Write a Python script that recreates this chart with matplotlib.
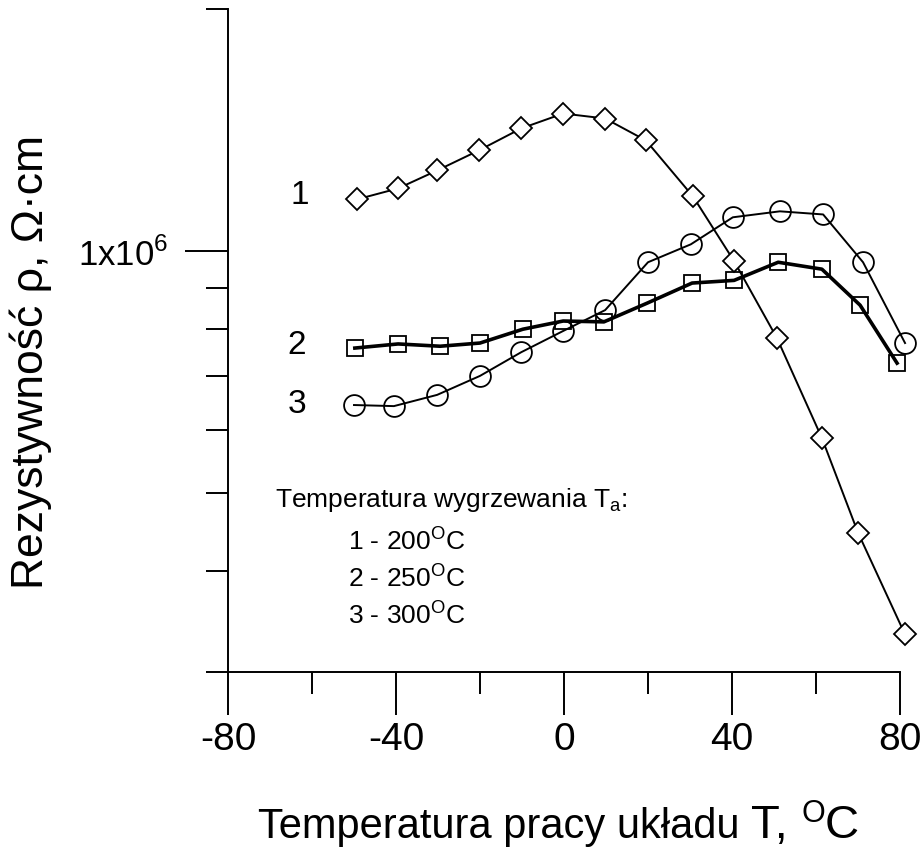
import numpy as np
import matplotlib.pyplot as plt
from matplotlib.ticker import FixedLocator, NullFormatter, FixedFormatter

plt.rcParams['font.family'] = ['Liberation Sans', 'DejaVu Sans']
plt.rcParams['mathtext.fontset'] = 'custom'
plt.rcParams['mathtext.rm'] = 'Liberation Sans'
plt.rcParams['axes.unicode_minus'] = False

# series 1 - Ta = 200 C (diamonds)
t1 = [-49.3, -39.5, -30.2, -20.2, -10.2, -0.2, 9.8, 19.5, 30.7, 40.5, 50.7, 61.4, 70.0, 81.2]
rho1 = [1.160e6, 1.197e6, 1.260e6, 1.335e6, 1.421e6, 1.483e6, 1.462e6, 1.373e6,
        1.170e6, 0.972e6, 0.780e6, 0.586e6, 0.447e6, 0.334e6]

# series 2 - Ta = 250 C (squares)
t2 = [-49.8, -39.5, -29.5, -20.0, -9.8, -0.2, 9.5, 19.8, 30.5, 40.5, 51.0, 61.4, 70.5, 79.3]
rho2 = [0.758e6, 0.767e6, 0.762e6, 0.769e6, 0.800e6, 0.819e6, 0.817e6, 0.862e6,
        0.913e6, 0.920e6, 0.969e6, 0.950e6, 0.857e6, 0.726e6]

# series 3 - Ta = 300 C (circles)
t3 = [-50.0, -40.5, -30.2, -20.0, -10.2, -0.2, 9.8, 20.0, 30.2, 40.2, 51.4, 61.7, 71.2, 81.2]
rho3 = [0.644e6, 0.642e6, 0.663e6, 0.700e6, 0.749e6, 0.796e6, 0.845e6, 0.969e6,
        1.020e6, 1.102e6, 1.121e6, 1.111e6, 0.969e6, 0.769e6]

xticks = [-80, -40, 0, 40, 80]
xminor = [-60, -20, 20, 60]
yminor = [3e5, 4e5, 5e5, 6e5, 7e5, 8e5, 9e5, 2e6]

W, H = 921, 852


def fx(px):
    return px / W


def fy(py):
    return 1 - py / H


fig = plt.figure(figsize=(W / 100, H / 100), dpi=100)
ax = fig.add_axes([fx(228), fy(672), (900 - 228) / W, (672 - 9) / H])

ax.plot(t1, rho1, color='black', lw=1.4, marker='D', ms=11, mfc='white',
        mec='black', mew=1.3, zorder=3, clip_on=False)
ax.plot(t2, rho2, color='black', lw=2.6, marker='s', ms=12, mfc='none',
        mec='black', mew=1.3, zorder=3, clip_on=False)
ax.plot(t3, rho3, color='black', lw=1.4, marker='o', ms=15, mfc='none',
        mec='black', mew=1.3, zorder=3, clip_on=False)

ax.set_yscale('log')
ax.set_xlim(-80, 80)
ax.set_ylim(3e5, 2e6)
ax.xaxis.set_major_locator(FixedLocator(xticks))
ax.xaxis.set_minor_locator(FixedLocator(xminor))
ax.yaxis.set_major_locator(FixedLocator([1e6]))
ax.yaxis.set_major_formatter(FixedFormatter([r'1x10$^\mathregular{6}$']))
ax.yaxis.set_minor_locator(FixedLocator(yminor))
ax.yaxis.set_minor_formatter(NullFormatter())

for s in ['top', 'right']:
    ax.spines[s].set_visible(False)
for s in ['left', 'bottom']:
    ax.spines[s].set_linewidth(1.4)

ax.tick_params(which='major', direction='out', length=31, width=1.4,
               labelsize=28, pad=5)
ax.tick_params(which='minor', direction='out', length=16, width=1.4)
ax.tick_params(axis='y', which='major', labelsize=25, pad=12)

# curve numbers
fig.text(fx(300), fy(195), '1', fontsize=24, ha='center', va='center')
fig.text(fx(297), fy(345), '2', fontsize=24, ha='center', va='center')
fig.text(fx(297), fy(405), '3', fontsize=24, ha='center', va='center')

# legend-like text block
fig.text(fx(275), fy(507), r'Temperatura wygrzewania T$_\mathregular{a}$:', fontsize=19,
         ha='left', va='baseline')
fig.text(fx(348), fy(550), r'1 - 200$^\mathregular{O}$C', fontsize=19, ha='left', va='baseline')
fig.text(fx(348), fy(587), r'2 - 250$^\mathregular{O}$C', fontsize=19, ha='left', va='baseline')
fig.text(fx(348), fy(624), r'3 - 300$^\mathregular{O}$C', fontsize=19, ha='left', va='baseline')

# y label
fig.text(fx(31), fy(362), 'Rezystywność ρ, Ω·cm', fontsize=32, rotation=90,
         ha='center', va='center')

# x label built from pieces (larger "T, OC")
fig.canvas.draw()
r = fig.canvas.get_renderer()
base = fy(838)
x0 = fx(258)
pieces = [('Temperatura pracy układu ', 30, 0), ('T, ', 34, 0),
          ('O', 22, 16), ('C', 34, 0)]
for txt, size, rise in pieces:
    t = fig.text(x0, base + rise / H, txt, fontsize=size, ha='left', va='baseline')
    bb = t.get_window_extent(renderer=r)
    x0 = bb.x1 / W

fig.savefig('out.png', dpi=100)
